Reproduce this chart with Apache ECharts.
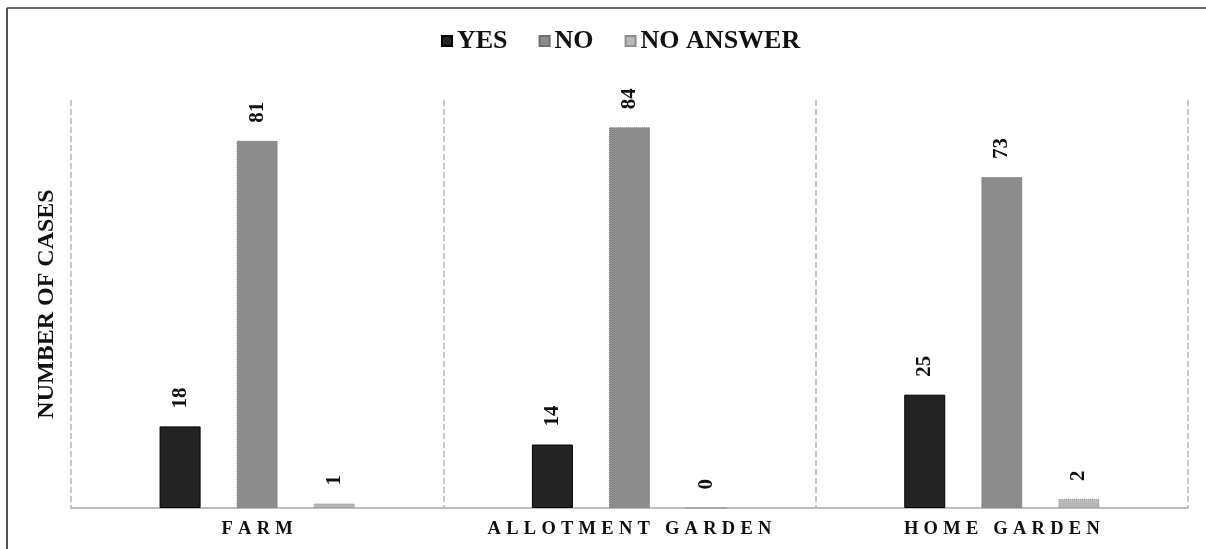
<!DOCTYPE html>
<html>
<head>
<meta charset="utf-8">
<script src="https://cdn.jsdelivr.net/npm/echarts@6/dist/echarts.min.js"></script>
<style>
  html, body { margin: 0; padding: 0; background: #fff; }
  #chart { width: 1206px; height: 549px; }
</style>
</head>
<body>
<div id="chart"></div>
<script>
// data
const categories = ['FARM', 'ALLOTMENT GARDEN', 'HOME GARDEN'];
const yesValues = [18, 14, 25];
const noValues = [81, 84, 73];
const noAnswerValues = [1, 0, 2];

const serif = '"Liberation Serif", "Times New Roman", serif';

const chart = echarts.init(document.getElementById('chart'));

// spread the category letters like the original (letter-spaced caps)
function spaced(s) {
  return s.split('').join('\u2009\u200A');
}

const barLabel = {
  show: true,
  position: 'top',
  rotate: 90,
  align: 'left',
  verticalAlign: 'middle',
  distance: 18,
  color: '#111',
  fontFamily: serif,
  fontWeight: 'bold',
  fontSize: 21
};

const option = {
  backgroundColor: '#fff',
  animation: false,
  legend: {
    top: 23,
    left: 436,
    itemWidth: 10,
    itemHeight: 10,
    itemGap: 31,
    icon: 'rect',
    textStyle: {
      fontFamily: serif,
      fontWeight: 'bold',
      fontSize: 26,
      color: '#111'
    },
    data: ['YES', 'NO', 'NO ANSWER']
  },
  grid: {
    left: 71,
    right: 18,
    top: 100,
    bottom: 41
  },
  xAxis: {
    type: 'category',
    data: categories,
    axisLine: { lineStyle: { color: '#bdbdbd', width: 2 } },
    axisTick: { show: false },
    splitLine: {
      show: true,
      interval: 0,
      lineStyle: { color: '#b5b5b5', type: [6, 3], width: 1.5 }
    },
    axisLabel: {
      interval: 0,
      hideOverlap: false,
      margin: 12,
      color: '#111',
      fontFamily: serif,
      fontWeight: 'bold',
      fontSize: 18.5,
      formatter: spaced
    }
  },
  yAxis: {
    type: 'value',
    min: 0,
    max: 90,
    name: 'NUMBER OF CASES',
    nameLocation: 'middle',
    nameGap: 12,
    nameTextStyle: {
      color: '#111',
      fontFamily: serif,
      fontWeight: 'bold',
      fontSize: 24
    },
    axisLine: { show: false },
    axisTick: { show: false },
    axisLabel: { show: false },
    splitLine: { show: false }
  },
  series: [
    {
      name: 'YES',
      type: 'bar',
      data: yesValues,
      barWidth: 41,
      barGap: '88%',
      itemStyle: { color: '#232323', borderColor: '#000', borderWidth: 1 },
      label: barLabel
    },
    {
      name: 'NO',
      type: 'bar',
      data: noValues,
      barWidth: 41,
      barGap: '88%',
      itemStyle: { color: '#8c8c8c', borderColor: '#6e6e6e', borderWidth: 1, borderType: 'dotted' },
      label: barLabel
    },
    {
      name: 'NO ANSWER',
      type: 'bar',
      data: noAnswerValues,
      barWidth: 41,
      barGap: '88%',
      itemStyle: { color: '#b8b8b8', borderColor: '#8e8e8e', borderWidth: 1, borderType: 'dotted' },
      label: barLabel
    }
  ],
  // frame lines at the top and left edge of the original image
  graphic: [
    { type: 'line', shape: { x1: 7, y1: 8, x2: 1206, y2: 8 }, style: { stroke: '#6a6a6a', lineWidth: 2 } },
    { type: 'line', shape: { x1: 7, y1: 8, x2: 7, y2: 549 }, style: { stroke: '#555', lineWidth: 2 } }
  ]
};

chart.setOption(option);
</script>
</body>
</html>
